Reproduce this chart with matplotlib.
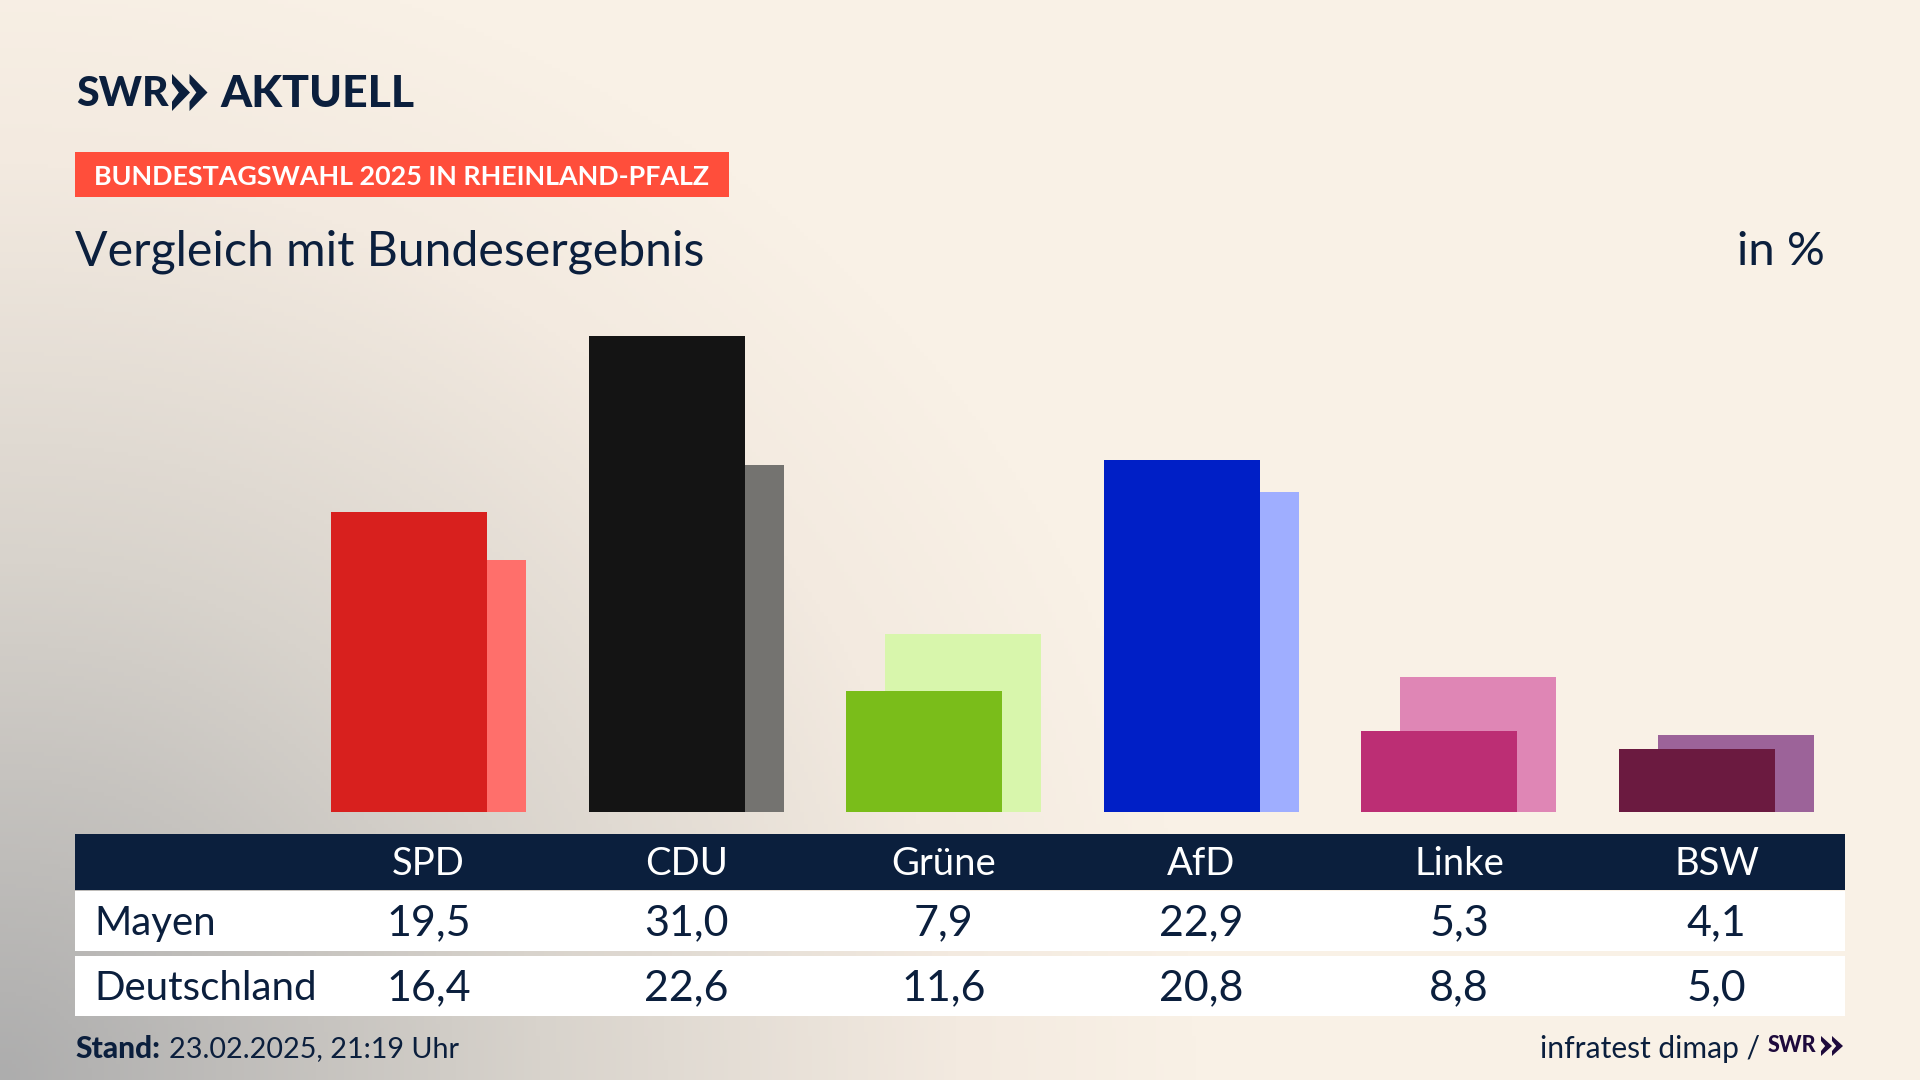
import numpy as np
import matplotlib
matplotlib.use('Agg')
import matplotlib.pyplot as plt
from matplotlib.colors import LinearSegmentedColormap
from matplotlib.patches import Rectangle, Polygon

parties = ['SPD', 'CDU', 'Grüne', 'AfD', 'Linke', 'BSW']
mayen = [19.5, 31.0, 7.9, 22.9, 5.3, 4.1]
deutschland = [16.4, 22.6, 11.6, 20.8, 8.8, 5.0]
mayen_colors = ['#D8201E', '#141414', '#7ABD1A', '#001FC6', '#BC2E74', '#6B1A40']
deutschland_colors = ['#FF6F6B', '#747370', '#D8F6AC', '#9FAEFF', '#DF86B5', '#9C6399']

navy = '#0B1F3D'
plt.rcParams['font.family'] = ['Lato', 'DejaVu Sans']

W, H = 1920, 1080
fig = plt.figure(figsize=(19.2, 10.8), dpi=100)

# page in pixel coords, y going down
page = fig.add_axes([0, 0, 1, 1])
page.set_xlim(0, W)
page.set_ylim(H, 0)
page.axis('off')

# background, grey glow from the lower left corner
yy, xx = np.mgrid[0:H:270j, 0:W:480j]
dist = np.clip(np.sqrt((xx / 1200) ** 2 + ((H - yy) / 1150) ** 2), 0, 1)
cmap = LinearSegmentedColormap.from_list('bg', [(0, '#ADADAD'), (0.45, '#D8D3CC'), (0.8, '#F3EAE0'), (1, '#F9F1E6')])
page.imshow(dist, extent=(0, W, H, 0), cmap=cmap, vmin=0, vmax=1, aspect='auto', zorder=0)

# bars
base_y = 812
px_per_pct = 15.37
pitch = 257.6
first_center = 428.6
bar_w = 156 / pitch
offset = 19.5 / pitch

ax = fig.add_axes([0, (H - base_y) / H, 1, base_y / H])
ax.patch.set_alpha(0)
ax.set_xlim(-first_center / pitch, (W - first_center) / pitch)
ax.set_ylim(0, base_y / px_per_pct)
ax.axis('off')
x = np.arange(len(parties))
ax.bar(x + offset, deutschland, bar_w, color=deutschland_colors, zorder=2)
ax.bar(x - offset, mayen, bar_w, color=mayen_colors, zorder=3)

over = fig.add_axes([0, 0, 1, 1])
over.patch.set_alpha(0)
over.set_xlim(0, W)
over.set_ylim(H, 0)
over.axis('off')


def chevrons(x0, y0, h, w, gap, color):
    # the two SWR arrows
    for i in range(2):
        left = x0 + i * gap
        mid = y0 + h / 2
        over.add_patch(Polygon([(left, y0), (left + w, mid), (left, y0 + h), (left, y0 + h * 0.75),
                                (left + w * 0.38, mid), (left, y0 + h * 0.25)],
                               closed=True, color=color, lw=0))


# logo
over.text(76, 94, 'SWR', color=navy, fontsize=29.5, fontweight='black', va='center', ha='left')
chevrons(172, 74, 37, 18, 17.5, navy)
over.text(220, 94, 'AKTUELL', color=navy, fontsize=32, fontweight='black', va='center', ha='left')

# tag
over.add_patch(Rectangle((75, 152), 654, 45, color='#FF4E3B', lw=0))
over.text(94, 177, 'BUNDESTAGSWAHL 2025 IN RHEINLAND-PFALZ', color='white', fontsize=19.4,
          fontweight='bold', va='center', ha='left')

# title
over.text(75, 252, 'Vergleich mit Bundesergebnis', color=navy, fontsize=34.7, va='center', ha='left')
over.text(1825, 252, 'in %', color=navy, fontsize=34, va='center', ha='right')

# table
over.add_patch(Rectangle((75, 834), 1770, 56, color=navy, lw=0))
over.add_patch(Rectangle((75, 891), 1770, 60, color='white', lw=0))
over.add_patch(Rectangle((75, 956), 1770, 60, color='white', lw=0))
over.text(94, 923, 'Mayen', color=navy, fontsize=29, va='center', ha='left')
over.text(94, 988, 'Deutschland', color=navy, fontsize=29, va='center', ha='left')
for i, name in enumerate(parties):
    cx = first_center + i * pitch
    over.text(cx, 864, name, color='white', fontsize=27.5, va='center', ha='center')
    over.text(cx, 923, f'{mayen[i]:.1f}'.replace('.', ','), color=navy, fontsize=31, va='center', ha='center')
    over.text(cx, 988, f'{deutschland[i]:.1f}'.replace('.', ','), color=navy, fontsize=31, va='center', ha='center')

# footer
over.text(75, 1049, 'Stand:', color=navy, fontsize=21.5, fontweight='black', va='center', ha='left')
over.text(169, 1049, '23.02.2025, 21:19 Uhr', color=navy, fontsize=20.7, va='center', ha='left')
over.text(1760, 1049, 'infratest dimap /', color=navy, fontsize=21.6, va='center', ha='right')
over.text(1768, 1046, 'SWR', color='#1E0A3C', fontsize=15.5, fontweight='black', va='center', ha='left')
chevrons(1821, 1036, 20, 11, 11, '#1E0A3C')

fig.savefig('out.png', dpi=100)
